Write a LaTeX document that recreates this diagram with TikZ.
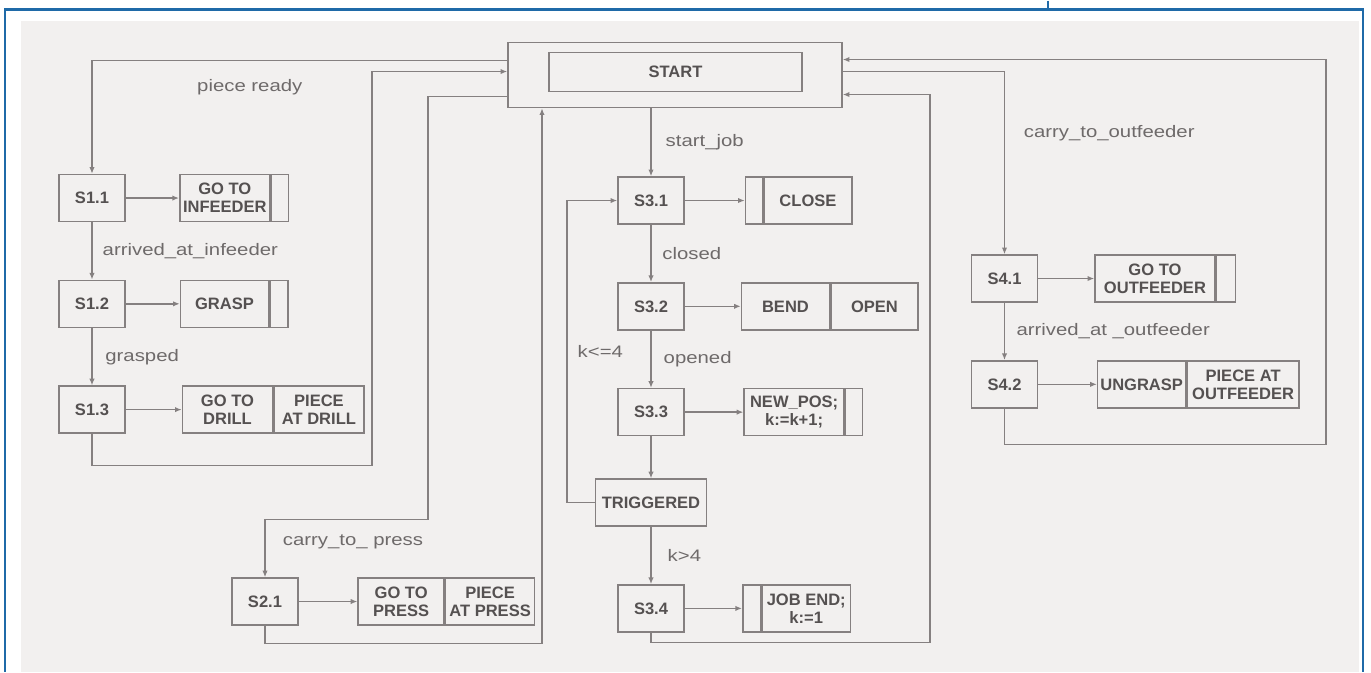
\documentclass[tikz,border=0pt]{standalone}
\usepackage{fontspec}
\setmainfont{Liberation Sans}
\newfontfamily\lblfont[FakeStretch=1.22]{Liberation Sans}
\usetikzlibrary{positioning,arrows.meta,calc}
\definecolor{wiregray}{HTML}{858080}
\definecolor{inkgray}{HTML}{555151}
\definecolor{labelgray}{HTML}{6E6A6A}
\definecolor{paper}{HTML}{F2F0EF}
\definecolor{frameblue}{HTML}{1F6AA8}

\begin{document}
\begin{tikzpicture}[
    x=0.75pt, y=-0.75pt,
    node distance=43pt,
    state/.style={draw=wiregray, line width=1.1pt, text=inkgray, font=\fontsize{12.4}{13.5}\selectfont\bfseries, align=center, inner sep=2pt, minimum width=49.5pt, minimum height=35.25pt},
    act/.style={state, minimum width=66pt},
    slot/.style={state, minimum width=12.75pt},
    lbl/.style={text=labelgray, font=\lblfont\fontsize{12.5}{14}\selectfont, inner sep=0pt},
    arrow/.style={-{Latex[length=5pt,width=4pt]}, wiregray, line width=1.1pt},
    frame/.style={frameblue, line width=1.9pt}
]
% page, scan and frame
\fill[white] (0,0) rectangle (1371,671);
\fill[paper] (21,20) rectangle (1359,671);
\draw[frame] (5,671) |- (1363,9) -- (1363,671);
\draw[frameblue, line width=0.8pt] (1048,0) -- (1048,9);
\useasboundingbox (0,0) rectangle (1371,671);

% start block
\node[state, minimum width=250.5pt, minimum height=48.75pt] (start) at (675,74.5) {};
\node[state, minimum width=189.75pt, minimum height=29.25pt] (startin) at (675.5,71.5) {START};

% drill branch
\node[state] (s11) at (92,197.5) {S1.1};
\node[state, below=of s11] (s12) {S1.2};
\node[state, below=of s12] (s13) {S1.3};
\node[act, right=40pt of s11, minimum width=67.5pt] (infeed) {GO TO\\INFEEDER};
\node[slot, right=0pt of infeed] (infeedx) {};
\node[act, right=40.5pt of s12] (grasp) {GRASP};
\node[slot, right=0pt of grasp, minimum width=13.5pt] (graspx) {};
\node[act, right=42pt of s13, minimum width=67.5pt] (drill) {GO TO\\DRILL};
\node[act, right=0pt of drill, minimum width=67.5pt] (atdrill) {PIECE\\AT DRILL};

% press branch
\node[state] (s21) at (265,601) {S2.1};
\node[act, right=44pt of s21, minimum width=64.5pt] (press) {GO TO\\PRESS};
\node[act, right=0pt of press, minimum width=66.75pt] (atpress) {PIECE\\AT PRESS};

% bending cycle
\node[state] (s31) at (651,200) {S3.1};
\node[state, below=of s31] (s32) {S3.2};
\node[state, below=of s32] (s33) {S3.3};
\node[state, below=31.5pt of s33, minimum width=83.25pt] (trig) {TRIGGERED};
\node[state, below=of trig] (s34) {S3.4};
\node[slot, right=45pt of s31] (closex) {};
\node[act, right=0pt of closex] (close) {CLOSE};
\node[act, right=42pt of s32] (bend) {BEND};
\node[act, right=0pt of bend, minimum width=65.25pt] (open) {OPEN};
\node[act, right=44pt of s33, minimum width=75pt] (newpos) {NEW\_POS;\\k:=k+1;};
\node[slot, right=0pt of newpos] (newposx) {};
\node[slot, right=43pt of s34, minimum width=13.5pt] (jobendx) {};
\node[act, right=0pt of jobendx] (jobend) {JOB END;\\k:=1};

% outfeeder branch
\node[state] (s41) at (1004.5,278) {S4.1};
\node[state, below=of s41] (s42) {S4.2};
\node[act, right=42pt of s41, minimum width=90pt] (outfeed) {GO TO\\OUTFEEDER};
\node[slot, right=0pt of outfeed, minimum width=14.25pt] (outfeedx) {};
\node[act, right=44pt of s42] (ungrasp) {UNGRASP};
\node[act, right=0pt of ungrasp, minimum width=84pt] (atout) {PIECE AT\\OUTFEEDER};

% bends of the return lines
\coordinate (drillret) at (372,465);
\coordinate (pressturn) at (428,519);
\coordinate (pressret) at (542,643);
\coordinate (jobret) at (930,642);
\coordinate (outret) at (1326,444);
\coordinate (kloop) at (567,200);

\draw[arrow] ($(start.west)+(0,-14.5)$) -| node[lbl, pos=0.31, below=13.5pt] {piece ready} (s11.north);
\draw[arrow] (s11) -- node[lbl, right=7.5pt] {arrived\_at\_infeeder} (s12);
\draw[arrow] (s12) -- node[lbl, right=9.5pt] {grasped} (s13);
\draw[arrow] (s11) -- (infeed);
\draw[arrow] (s12) -- (grasp);
\draw[arrow] (s13) -- (drill);
\draw[arrow] (s13.south) |- (drillret) |- ($(start.west)+(0,-3.5)$);

\draw[arrow] ($(start.west)+(0,21.5)$) -| (pressturn) -| node[lbl, pos=0.23, below=11pt] {carry\_to\_ press} (s21.north);
\draw[arrow] (s21) -- (press);
\draw[arrow] (s21.south) |- (pressret) -- (pressret |- start.south);

\draw[arrow] (s31.north |- start.south) -- node[lbl, right=10.5pt] {start\_job} (s31.north);
\draw[arrow] (s31) -- node[lbl, right=8pt] {closed} (s32);
\draw[arrow] (s32) -- node[lbl, right=9pt] {opened} (s33);
\draw[arrow] (s33) -- (trig);
\draw[arrow] (trig) -- node[lbl, right=12pt] {k>4} (s34);
\draw[arrow] (trig.west) -| node[lbl, pos=0.75, right=7.5pt] {k<=4} (kloop) -- (s31.west);
\draw[arrow] (s31) -- (closex);
\draw[arrow] (s32) -- (bend);
\draw[arrow] (s33) -- (newpos);
\draw[arrow] (s34) -- (jobendx);
\draw[arrow] (s34.south) |- (jobret) |- ($(start.east)+(0,19.5)$);

\draw[arrow] ($(start.east)+(0,-3.5)$) -| node[lbl, pos=0.67, right=14pt] {carry\_to\_outfeeder} (s41.north);
\draw[arrow] (s41) -- node[lbl, right=8.5pt] {arrived\_at \_outfeeder} (s42);
\draw[arrow] (s41) -- (outfeed);
\draw[arrow] (s42) -- (ungrasp);
\draw[arrow] (s42.south) |- (outret) |- ($(start.east)+(0,-15.5)$);
\end{tikzpicture}
\end{document}
